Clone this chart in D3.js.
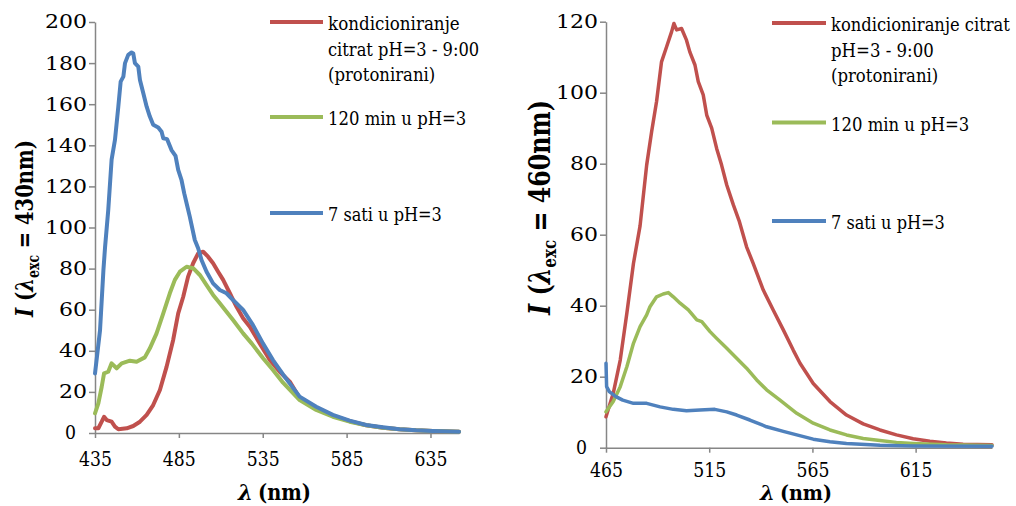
<!DOCTYPE html>
<html><head><meta charset="utf-8">
<script src="https://cdn.jsdelivr.net/npm/d3@7/dist/d3.min.js"></script>
<style>body{margin:0;background:#fff}</style>
</head><body>
<svg id="c" width="1016" height="506"></svg>
<script>
// ---------- DATA ----------
const seriesNames = ["kondicioniranje citrat pH=3 - 9:00 (protonirani)", "120 min u pH=3", "7 sati u pH=3"];
const colors = ["#C0504D", "#9BBB59", "#4F81BD"];

const leftXTicks = [435, 485, 535, 585, 635];
const leftYTicks = [0, 20, 40, 60, 80, 100, 120, 140, 160, 180, 200];
const rightXTicks = [465, 515, 565, 615];
const rightYTicks = [0, 20, 40, 60, 80, 100, 120];

// Left chart (excitation 430 nm)
const L_red_x = [435,437,439,440.4,442,444.9,446.9,448.9,453.9,457.8,461.8,465.8,469.7,473.7,477.7,481.6,484.6,487.6,490.5,493.5,496.5,499.5,502.4,505.4,508.4,511.4,515.4,519.3,523.3,527.3,533.2,539.2,545.1,551.1,557,566.9,576.8,586.8,596.7,606.6,616.5,626.4,636.3,652];
const L_red_y = [2.3,2.3,5.5,7.9,6.3,5.5,3.1,1.8,2.3,3.4,5.5,8.8,13.6,20.9,32.3,45.3,58.2,66.3,76.1,82.6,87.4,88.2,85.8,82.6,78.5,74.5,68,61.5,55.8,51.7,43.6,35.5,29.8,25,17,12.3,8.5,5.8,3.8,2.6,1.8,1.3,1.0,0.6];
const L_green_x = [435,437,439,440.4,442.9,444.9,447.9,450.9,455.8,459.8,464.7,467.7,471.7,475.7,479.6,482.6,485.6,489.6,493.5,497.5,501.5,505.4,509.4,513.4,517.3,523.3,528.5,535.2,541.1,547.1,557,566.9,576.8,586.8,596.7,606.6,616.5,626.4,636.3,652];
const L_green_y = [9.6,14.4,22.5,29,29.8,33.9,31.5,33.9,35.2,34.7,36.8,41.2,48.5,58.2,68,74.5,78.5,80.9,80.2,76.9,72,67.2,63.1,59,55,48.5,43.5,36.4,30.7,24.5,16,11.2,7.9,5.5,3.8,2.6,1.8,1.3,1.0,0.6];
const L_blue_x = [435,438,440,441,442.9,444.9,446.9,448.9,450.3,451.9,452.9,454.8,456.8,457.8,458.8,460.8,461.8,463.8,465.8,467.7,469.7,472.7,474.7,475.7,478,480.6,483,484.6,486.6,488.2,489.6,491.5,494.5,496.5,498.5,501.5,505.4,509.4,513.4,517.3,523.3,529.2,535.2,541.1,547.1,557,566.9,576.8,586.8,596.7,606.6,616.5,626.4,636.3,652];
const L_blue_y = [29,50,79,90.5,108.5,133,142.6,158.8,171,173.4,180,184,185.2,184.7,180,178.3,171.8,165.3,158.8,154,150,148.7,146.6,143.4,143,137.7,134.8,128,123,116.6,111.8,105.3,93.9,89.9,84.2,78.5,72.8,69.6,68,64.7,59.9,52.5,43.5,35.5,28.5,17.7,12.8,8.8,6,3.9,2.8,1.8,1.3,1.0,0.6];

// Right chart (excitation 460 nm)
const R_red_x = [465,468.5,471.9,475.1,478.3,481.5,484.7,487.1,489.5,491.9,494.4,496.8,497.9,499.2,501.6,504,505.6,508.1,509.7,512.1,513.8,516.2,518.6,521,523.5,526.7,529.5,533.1,536.3,541.2,546,550.9,555.7,559,565.4,573.5,581.5,589.6,597.7,605.7,613.8,621.9,629.9,638,652];
const R_red_y = [8.7,15.3,24.7,37.9,51.9,62.5,79.6,89,97.5,108.7,113,117.2,119.5,117.7,118.1,114.8,111.5,107.8,103.1,99.4,93.7,90,84.3,79.6,74,68.4,63.9,56.6,51.9,44.4,38.8,33.2,27.5,23.8,18.1,13,9.2,6.7,5,3.6,2.5,1.8,1.3,1.0,0.8];
const R_green_x = [465,468.5,471.9,475.1,478.3,481.5,484.7,486.3,489.5,492.7,495.2,497.6,500.9,504.9,509,511.4,515.4,518.6,523.5,528.3,533.1,538,542.8,549.3,557.4,565.4,573.5,581.5,589.6,597.7,605.7,613.8,629.9,652];
const R_green_y = [10.1,13,17.2,22.8,29.4,34.1,37.4,39.7,42.5,43.3,43.7,42.5,40.7,38.8,36,35.5,32.7,30.8,28,25.2,22.4,19.1,16.3,13.4,9.7,6.9,5,3.6,2.6,2,1.5,1.2,0.8,0.6];
const R_blue_x = [465,465.3,466.6,469.8,473.1,478.3,484.7,491.2,497.6,504,510.5,517.7,523.5,528.3,534.7,542.8,550.9,557.4,565.4,573.5,581.5,597.7,613.8,652];
const R_blue_y = [23.8,17.2,15.8,14.4,13.4,12.5,12.5,11.5,10.8,10.4,10.6,10.8,10.1,9.2,7.8,5.9,4.6,3.6,2.4,1.7,1.2,0.7,0.5,0.4];

const leftLegend = [["kondicioniranje","citrat pH=3 - 9:00","(protonirani)"],["120 min u pH=3"],["7 sati u pH=3"]];
const rightLegend = [["kondicioniranje citrat","pH=3 - 9:00","(protonirani)"],["120 min u pH=3"],["7 sati u pH=3"]];

// ---------- DRAW ----------
const FONT = "DejaVu Serif";
const svg = d3.select("#c");
const AXIS = "#868686";

function zip(xs, ys){ return xs.map((x,i)=>[x, ys[i]]); }
// Times-like advance widths, used to fit the available serif font to the original text widths
const TW = {"0":.5,"1":.5,"2":.5,"3":.5,"4":.5,"5":.5,"6":.5,"7":.5,"8":.5,"9":.5," ":.25,"k":.5,"o":.5,"n":.5,"d":.5,"i":.278,"c":.444,"r":.333,"a":.444,"j":.278,"e":.444,"t":.278,"p":.5,"H":.722,"=":.564,"-":.333,":":.278,"(":.333,")":.333,"m":.778,"u":.5,"s":.389};
function tw(s, size){ let w=0; for(const ch of s) w += (TW[ch]||.5); return w*size; }

function panel(cfg){
  const g = svg.append("g").attr("font-family", FONT);
  const x = d3.scaleLinear().domain(cfg.xDomain).range(cfg.xRange);
  const y = d3.scaleLinear().domain(cfg.yDomain).range(cfg.yRange);

  const ya = g.append("g").attr("transform", `translate(${cfg.xRange[0]},0)`)
    .call(d3.axisLeft(y).tickValues(cfg.yTicks).tickSize(6).tickSizeOuter(0).tickPadding(8));
  ya.attr("font-family", FONT);
  ya.select(".domain").attr("stroke", AXIS).attr("stroke-width", 1.5);
  ya.selectAll(".tick line").attr("stroke", AXIS).attr("stroke-width", 1.5);
  ya.selectAll(".tick text").attr("font-size", 18.5).attr("fill","#000")
    .attr("x", d => d === 0 ? -19 : -8)
    .attr("textLength", d => String(d).length === 1 ? 11 : String(d).length * 14)
    .attr("lengthAdjust","spacingAndGlyphs");

  const xa = g.append("g").attr("transform", `translate(0,${cfg.yRange[0]})`)
    .call(d3.axisBottom(x).tickValues(cfg.xTicks).tickSize(5).tickSizeOuter(0).tickPadding(cfg.xPad));
  xa.attr("font-family", FONT);
  xa.select(".domain").attr("stroke", AXIS).attr("stroke-width", 1.5);
  xa.selectAll(".tick line").attr("stroke", AXIS).attr("stroke-width", 1.5);
  xa.selectAll(".tick text").attr("font-size", 19.5).attr("fill","#000")
    .attr("textLength", 33).attr("lengthAdjust","spacingAndGlyphs");

  const line = d3.line().x(d=>x(d[0])).y(d=>y(d[1]));
  cfg.series.forEach((s,i)=>{
    g.append("path").datum(s).attr("d", line).attr("fill","none")
      .attr("stroke", colors[i]).attr("stroke-width", cfg.lw)
      .attr("stroke-linejoin","round").attr("stroke-linecap","round");
  });

  // x title: italic lambda + "(nm)"
  g.append("text").attr("x", cfg.xTitle[0]).attr("y", cfg.xTitle[3])
    .attr("font-size", cfg.xTitle[4]).attr("font-weight","bold").attr("font-style","italic")
    .attr("textLength", 15).attr("lengthAdjust","spacingAndGlyphs").text("λ");
  g.append("text").attr("x", cfg.xTitle[1]).attr("y", cfg.xTitle[3])
    .attr("font-size", cfg.xTitle[4]).attr("font-weight","bold")
    .attr("textLength", cfg.xTitle[2]).attr("lengthAdjust","spacingAndGlyphs").text("(nm)");

  const fs = cfg.yTitleSize;
  const yt = g.append("text").attr("transform", `translate(${cfg.yTitlePos[0]},${cfg.yTitlePos[1]}) rotate(-90)`)
    .attr("text-anchor","middle").attr("font-size", fs).attr("font-weight","bold")
    .attr("textLength", cfg.yTitleLen).attr("lengthAdjust","spacingAndGlyphs");
  yt.append("tspan").attr("font-style","italic").text("I");
  yt.append("tspan").text(" (");
  yt.append("tspan").attr("font-style","italic").text("λ");
  yt.append("tspan").attr("font-size", fs*0.64).attr("dy", fs*0.22).text("exc");
  yt.append("tspan").attr("dy", -fs*0.22).text(" = " + cfg.exc + "nm)");

  cfg.legend.forEach((lines,i)=>{
    const ly = cfg.legendY[i];
    g.append("line").attr("x1", cfg.legendX[0]).attr("x2", cfg.legendX[1])
      .attr("y1", ly).attr("y2", ly).attr("stroke", colors[i]).attr("stroke-width", 4);
    lines.forEach((ln,j)=>{
      const t = g.append("text").attr("font-size", 18.5).text(ln);
      const natural = t.node().getComputedTextLength();
      const target = Math.min(tw(ln, 21), 1010 - cfg.legendX[2]);
      const sx = natural > 0 ? target / natural : 1;
      t.attr("transform", `translate(${cfg.legendX[2]},${ly + 8 + j*25.5}) scale(${sx},1)`);
    });
  });
}

panel({
  xDomain:[435,652], xRange:[95,459], yDomain:[0,200], yRange:[433,22],
  xTicks:leftXTicks, yTicks:leftYTicks, lw:4, xPad:14,
  series:[zip(L_red_x,L_red_y), zip(L_green_x,L_green_y), zip(L_blue_x,L_blue_y)],
  xTitle:[238,258,53,500,22], yTitlePos:[33,228.5], yTitleSize:25, yTitleLen:177, exc:"430",
  legend:leftLegend, legendX:[270,323,328], legendY:[22,117,213]
});
panel({
  xDomain:[465,652], xRange:[606,992], yDomain:[0,120], yRange:[447.7,21.7],
  xTicks:rightXTicks, yTicks:rightYTicks, lw:3.5, xPad:10,
  series:[zip(R_red_x,R_red_y), zip(R_green_x,R_green_y), zip(R_blue_x,R_blue_y)],
  xTitle:[760,780,52,500,20], yTitlePos:[550,207.5], yTitleSize:29, yTitleLen:215, exc:"460",
  legend:rightLegend, legendX:[772,826,831], legendY:[23,122.5,221]
});
</script>
</body></html>
